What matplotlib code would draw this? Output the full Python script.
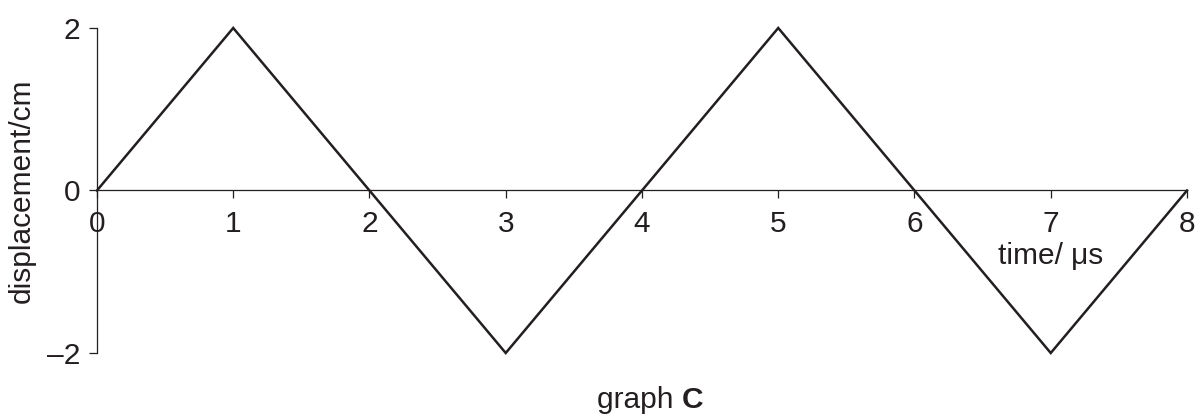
import matplotlib.pyplot as plt

plt.rcParams["font.family"] = ["Liberation Sans", "DejaVu Sans"]

time_us = [0, 1, 2, 3, 4, 5, 6, 7, 8]
displacement_cm = [0, 2, 0, -2, 0, 2, 0, -2, 0]
x_ticks = [0, 1, 2, 3, 4, 5, 6, 7, 8]
y_ticks = [-2, 0, 2]
y_tick_labels = ["\u20132", "0", "2"]

ink = "#231f20"
fs = 21.5

fig = plt.figure(figsize=(12.03, 4.19), dpi=100)
ax = fig.add_axes([0.0806, 0.1575, 0.9061, 0.7757])

ax.plot(time_us, displacement_cm, color=ink, lw=1.8, solid_joinstyle="miter", clip_on=False, zorder=3)

ax.set_xlim(0, 8)
ax.set_ylim(-2, 2)

ax.spines["top"].set_visible(False)
ax.spines["right"].set_visible(False)
ax.spines["bottom"].set_position(("data", 0))
for s in ("left", "bottom"):
    ax.spines[s].set_color(ink)
    ax.spines[s].set_linewidth(0.9)

ax.set_xticks(x_ticks)
ax.set_xticklabels([str(v) for v in x_ticks])
ax.set_yticks(y_ticks)
ax.set_yticklabels(y_tick_labels)
ax.tick_params(axis="both", direction="out", length=6, width=0.9, color=ink,
               labelcolor=ink, labelsize=fs)
ax.tick_params(axis="x", pad=8)
ax.tick_params(axis="y", pad=6)
for lbl in ax.get_xticklabels():
    lbl.set_bbox(dict(facecolor="white", edgecolor="none", pad=0.5))
    lbl.set_zorder(5)

ax.set_ylabel("displacement/cm", fontsize=fs, color=ink)
ax.yaxis.set_label_coords(-0.056, 0.5)

ax.text(7, -0.8, "time/ \u03bcs", fontsize=fs, color=ink, ha="center", va="center")

fig.text(0.567, 0.045, "graph ", fontsize=fs, color=ink, ha="right", va="center")
fig.text(0.567, 0.045, "C", fontsize=fs, color=ink, fontweight="bold", ha="left", va="center")

fig.savefig("out.png", dpi=100)
